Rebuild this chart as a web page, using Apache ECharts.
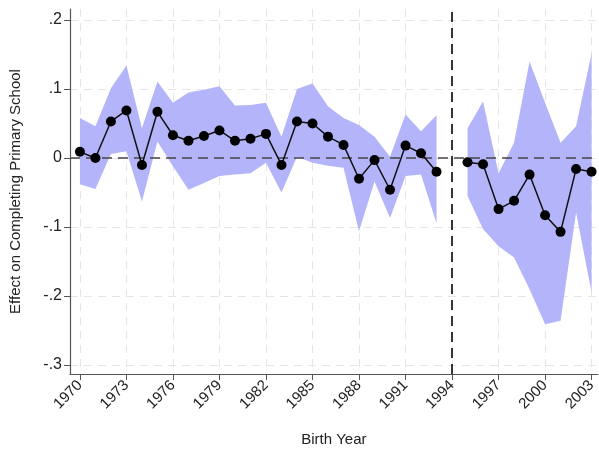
<!DOCTYPE html>
<html>
<head>
<meta charset="utf-8">
<script src="https://cdn.jsdelivr.net/npm/echarts@6/dist/echarts.min.js"></script>
<style>
  html, body { margin: 0; padding: 0; background: #fff; }
  #chart { width: 599px; height: 452px; }
</style>
</head>
<body>
<div id="chart"></div>
<script>
// before 1994
var years1 = [1970, 1971, 1972, 1973, 1974, 1975, 1976, 1977, 1978, 1979, 1980, 1981,
              1982, 1983, 1984, 1985, 1986, 1987, 1988, 1989, 1990, 1991, 1992, 1993];
var est1 = [0.009, 0.000, 0.053, 0.069, -0.010, 0.067, 0.033, 0.025, 0.032, 0.040, 0.025, 0.028,
            0.035, -0.010, 0.053, 0.050, 0.031, 0.019, -0.030, -0.003, -0.046, 0.018, 0.007, -0.020];
var lo1 = [-0.038, -0.045, 0.006, 0.010, -0.063, 0.024, -0.012, -0.046, -0.036, -0.026, -0.024, -0.022,
           -0.007, -0.050, 0.002, -0.007, -0.011, -0.014, -0.106, -0.034, -0.087, -0.026, -0.024, -0.095];
var hi1 = [0.058, 0.046, 0.101, 0.134, 0.043, 0.111, 0.080, 0.095, 0.099, 0.104, 0.076, 0.077,
           0.080, 0.031, 0.100, 0.108, 0.075, 0.058, 0.048, 0.031, 0.002, 0.063, 0.039, 0.062];

// after 1994
var years2 = [1995, 1996, 1997, 1998, 1999, 2000, 2001, 2002, 2003];
var est2 = [-0.006, -0.009, -0.074, -0.062, -0.024, -0.083, -0.107, -0.016, -0.020];
var lo2 = [-0.055, -0.103, -0.128, -0.144, -0.190, -0.241, -0.236, -0.079, -0.195];
var hi2 = [0.043, 0.082, -0.022, 0.022, 0.140, 0.080, 0.022, 0.046, 0.152];

var xTicks = [1970, 1973, 1976, 1979, 1982, 1985, 1988, 1991, 1994, 1997, 2000, 2003];
var yTicks = [-0.3, -0.2, -0.1, 0, 0.1, 0.2];

function pairs(xs, ys) {
    return xs.map(function (x, i) { return [x, ys[i]]; });
}
function fmtY(v) {
    if (Math.abs(v) < 1e-9) return '0';
    var s = (Math.round(v * 10) / 10).toString();
    return s.replace('0.', '.');
}

var bandColor = 'rgb(180,180,250)';

// confidence band: one polygon per segment, drawn with the axis scales
function bandSeries(xs, lo, hi) {
    var rows = xs.map(function (x, i) { return [x, lo[i], hi[i]]; });
    return {
        type: 'custom', silent: true, z: 1,
        data: rows,
        encode: {x: 0, y: [1, 2]},
        renderItem: function (params, api) {
            if (params.dataIndex !== 0) return null;
            var pts = [];
            for (var i = 0; i < rows.length; i++) pts.push(api.coord([rows[i][0], rows[i][2]]));
            for (var j = rows.length - 1; j >= 0; j--) pts.push(api.coord([rows[j][0], rows[j][1]]));
            return {
                type: 'polygon',
                shape: {points: pts},
                style: {fill: bandColor, stroke: null}
            };
        }
    };
}

function pointSeries(xs, ys) {
    return {
        type: 'line', data: pairs(xs, ys),
        symbol: 'circle', symbolSize: 10,
        itemStyle: {color: '#000'},
        lineStyle: {color: '#111', width: 1.5},
        z: 5
    };
}

var series = [bandSeries(years1, lo1, hi1), bandSeries(years2, lo2, hi2)];
series.push(pointSeries(years1, est1));
series.push(pointSeries(years2, est2));
series.push({
    type: 'line', data: [], z: 4,
    markLine: {
        silent: true, symbol: 'none', label: {show: false},
        data: [
            {yAxis: 0, lineStyle: {color: '#444', type: [10, 6], width: 1.5}},
            {xAxis: 1994, lineStyle: {color: '#222', type: [10, 6], width: 1.8}}
        ]
    }
});

var myChart = echarts.init(document.getElementById('chart'));
myChart.setOption({
    animation: false,
    textStyle: {fontFamily: 'Liberation Sans'},
    grid: {left: 70, right: 0, top: 9, bottom: 78, containLabel: false},
    xAxis: {
        type: 'value', min: 1969.36, max: 2003.4,
        name: 'Birth Year', nameLocation: 'middle', nameGap: 58,
        nameTextStyle: {fontSize: 15, color: '#222'},
        axisLine: {show: true, onZero: false, lineStyle: {color: '#555', width: 1.2}},
        axisTick: {show: true, length: 6, customValues: xTicks, lineStyle: {color: '#555'}},
        axisLabel: {customValues: xTicks, rotate: 45, fontSize: 15, color: '#222', margin: 9,
            formatter: function (v) { return String(v); }},
        splitLine: {show: true, lineStyle: {color: '#e6e6e6', type: [8, 6]}}
    },
    yAxis: {
        type: 'value', min: -0.313, max: 0.216,
        name: 'Effect on Completing Primary School', nameLocation: 'middle', nameGap: 47,
        nameTextStyle: {fontSize: 15, color: '#222'},
        axisLine: {show: true, onZero: false, lineStyle: {color: '#555', width: 1.2}},
        axisTick: {show: true, length: 6, customValues: yTicks, lineStyle: {color: '#555'}},
        axisLabel: {customValues: yTicks, fontSize: 16, color: '#222', margin: 8, formatter: fmtY},
        splitLine: {show: true, lineStyle: {color: '#e6e6e6', type: [8, 6]}}
    },
    series: series
});
</script>
</body>
</html>
